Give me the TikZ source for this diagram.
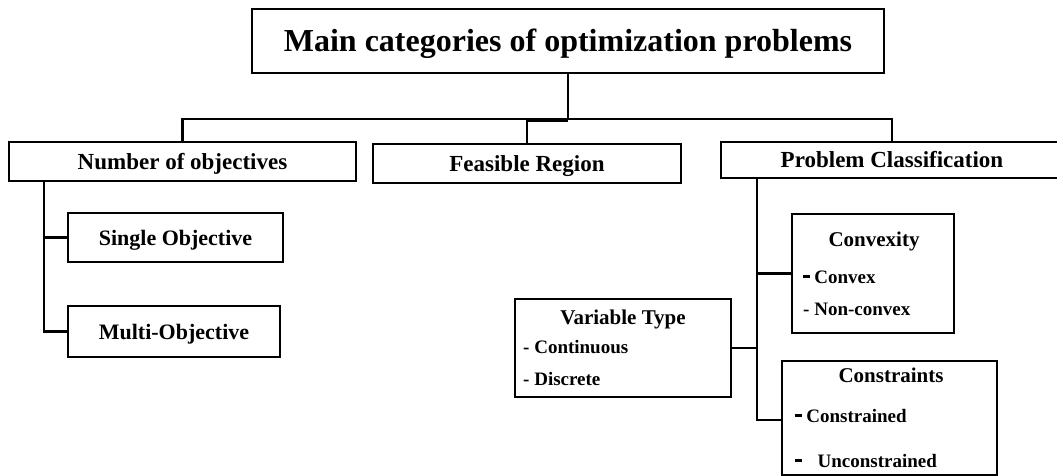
\documentclass[tikz,border=0pt]{standalone}
\usepackage{fontspec}
\setmainfont{Liberation Serif}
% short heavy dash used in front of some list items
\newcommand\thickdash{\rule[0.27em]{0.34em}{0.15em}}
\begin{document}
\begin{tikzpicture}[x=1pt,y=-1pt,
  frame/.style={draw, line width=2.1pt, inner sep=0pt, text depth=0pt},
  hugefont/.style={font=\bfseries\fontsize{32}{36}\selectfont, text height=21pt},
  headfont/.style={font=\bfseries\fontsize{23}{27}\selectfont, text height=15pt},
  subfont/.style={font=\bfseries\fontsize{22}{26}\selectfont, text height=15pt},
  titlefont/.style={font=\bfseries\fontsize{21}{25}\selectfont, inner sep=0pt, anchor=base},
  itemfont/.style={font=\bfseries\fontsize{19}{23}\selectfont, inner sep=0pt, anchor=base west},
  link/.style={line width=2.1pt}
]
\useasboundingbox (0,0) rectangle (1057,476);
\fill[white] (0,0) rectangle (1057,476);

% root
\node[frame, hugefont, minimum width=632pt, minimum height=64pt] (main) at (568,41)
  {Main categories of optimization problems};

% first level
\node[frame, headfont, minimum width=347pt, minimum height=39pt] (numobj) at (182.5,161.5) {Number of objectives};
\node[frame, headfont, minimum width=308pt, minimum height=39pt] (feasible) at (527,163.5) {Feasible Region};
\node[frame, headfont, minimum width=342pt, minimum height=36pt] (probclass) at (892,160) {Problem Classification};

% number of objectives
\node[frame, subfont, minimum width=215pt, minimum height=49pt] (single) at (175.5,237.5) {Single Objective};
\node[frame, subfont, minimum width=212pt, minimum height=51pt] (multi) at (174,331.5) {Multi-Objective};

% problem classification boxes
\node[frame, minimum width=162pt, minimum height=119pt] (cvxbox) at (873,273.5) {};
\node[frame, minimum width=216pt, minimum height=98pt] (vtbox) at (623,348) {};
\node[frame, minimum width=215pt, minimum height=114pt] (csbox) at (889.5,418) {};

\node[titlefont] (cvxT) at (874,246) {Convexity};
\node[itemfont] (cvx1) at (803,283) {\thickdash\ Convex};
\node[itemfont] (cvx2) at (803,315) {- Non-convex};

\node[titlefont] (vtT) at (623,324) {Variable Type};
\node[itemfont] (vt1) at (523,353) {- Continuous};
\node[itemfont] (vt2) at (523,385) {- Discrete};

\node[titlefont] (csT) at (891,382) {Constraints};
\node[itemfont] (cs1) at (795,422) {\thickdash\ Constrained};
\node[itemfont] (cs2) at (795,467) {\thickdash\hspace{16pt}Unconstrained};

% connectors from the root
\coordinate (bus) at (568,119);
\draw[link] (main.south) -- (bus);
\draw[link] (numobj.north) |- (bus) -| (probclass.north);
\draw[link] (feasible.north) -- (feasible.north |- bus);
\draw[line width=3pt] ([yshift=-1.5pt]feasible.north |- bus) -- ([yshift=-1.5pt]bus);

% left spine
\coordinate (ls) at (44,181);
\draw[link] (ls) |- (single.west);
\draw[link] (ls) |- (multi.west);

% right spine
\coordinate (rs) at (757,178);
\draw[link] (rs) |- (cvxbox.west);
\draw[link] (rs) |- ([yshift=-2pt]csbox.west);
\draw[link] (vtbox.east) -- (vtbox.east -| rs);
\end{tikzpicture}
\end{document}
